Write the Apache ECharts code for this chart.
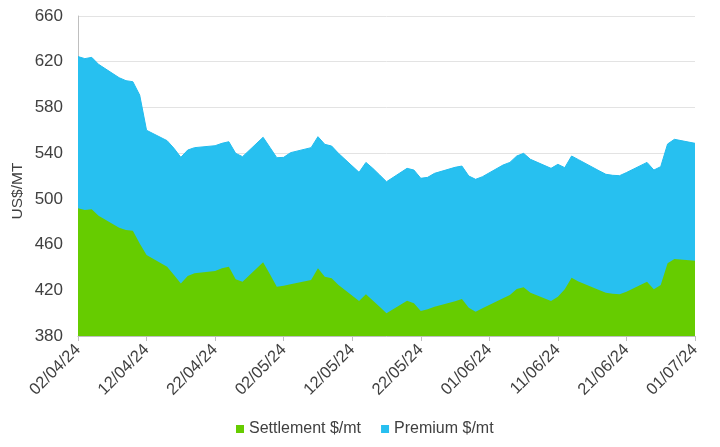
<!DOCTYPE html>
<html><head><meta charset="utf-8">
<script src="https://cdn.jsdelivr.net/npm/echarts@6/dist/echarts.min.js"></script>
<style>html,body{margin:0;padding:0;background:#fff}#c{width:720px;height:447px}</style>
</head><body><div id="c"></div>
<script>
// Weekday dates (DD/MM/YY)
const dates = ["02/04/24","03/04/24","04/04/24","05/04/24","08/04/24","09/04/24","10/04/24","11/04/24","12/04/24",
"15/04/24","16/04/24","17/04/24","18/04/24","19/04/24","22/04/24","23/04/24","24/04/24","25/04/24","26/04/24",
"29/04/24","30/04/24","01/05/24","02/05/24","03/05/24","06/05/24","07/05/24","08/05/24","09/05/24","10/05/24",
"13/05/24","14/05/24","15/05/24","16/05/24","17/05/24","20/05/24","21/05/24","22/05/24","23/05/24","24/05/24",
"27/05/24","28/05/24","29/05/24","30/05/24","31/05/24","03/06/24","04/06/24","05/06/24","06/06/24","07/06/24",
"10/06/24","11/06/24","12/06/24","13/06/24","14/06/24","17/06/24","18/06/24","19/06/24","20/06/24","21/06/24",
"24/06/24","25/06/24","26/06/24","27/06/24","28/06/24","01/07/24"];
const settlement = [491.7,490.2,490.8,485.3,474.8,472.7,472.1,461,450.9,
440.6,433.4,426,432.5,434.8,436.9,439.2,440.6,429.6,427.5,
444.5,434,423.2,424,425.2,429,439.2,431.9,430.5,424.6,
410.6,416.5,411,405.6,399.8,410.9,408.6,401.9,403.3,405.6,
410.5,412.4,404.8,401.3,404.2,413,415.9,421.1,422.6,417.9,
410.6,414.4,420.8,431,427.6,420.2,417.9,417,416.5,418.8,
427.5,420.8,424.6,443.6,447.4,445.9];
const premium = [132.8,132.5,133,132.4,131.2,130.7,130.4,129.8,109.1,
110.3,110.8,110.3,110.2,110,109.6,109.4,109.4,110.2,109.4,
109.4,111,112.8,112.3,115.2,115.8,115.2,115.8,115.7,115.2,
112.6,115.4,115.7,115.3,115.2,115.8,116.6,116.1,115.5,116.7,
117.1,116.3,115.2,115.8,115.2,116.6,116,116.4,117.2,116.7,
116.1,115.8,106.5,106.5,106.7,104.4,103.6,103.6,103.8,104.2,
104.4,104.4,103.6,104.4,104.7,102.7];
const yTicks = [380,420,460,500,540,580,620,660];

const DAY = 86400000;
function parse(s){const p=s.split('/');return Date.UTC(2000+ +p[2], +p[1]-1, +p[0]);}
const start = parse(dates[0]);
const xs = dates.map(d => Math.round((parse(d)-start)/DAY));
function fmt(off){const d=new Date(start+off*DAY);const pad=n=>String(n).padStart(2,'0');
  return pad(d.getUTCDate())+'/'+pad(d.getUTCMonth()+1)+'/'+String(d.getUTCFullYear()).slice(2);}
// premium sits on top of settlement (stacked)
const stackedTop = premium.map((p,i)=>+(p+settlement[i]).toFixed(2));

const chart = echarts.init(document.getElementById('c'), null, {renderer:'canvas'});
const font = 'Liberation Sans, Arial, sans-serif';
chart.setOption({
  animation:false,
  grid:{left:78,right:25,top:16,bottom:111},
  xAxis:{type:'value',min:0,max:xs[xs.length-1],interval:10,
    axisLine:{show:true,lineStyle:{color:'#bfbfbf',width:1}},
    axisTick:{show:true,length:5,lineStyle:{color:'#bfbfbf'}},
    splitLine:{show:false},
    axisLabel:{rotate:45,formatter:v=>fmt(v),color:'#404040',fontSize:16.5,fontFamily:font,margin:11}},
  yAxis:{type:'value',min:yTicks[0],max:yTicks[yTicks.length-1],interval:40,
    axisLine:{show:true,lineStyle:{color:'#bfbfbf'}},
    axisTick:{show:false},
    splitLine:{lineStyle:{color:'#e3e3e3',width:1}},
    axisLabel:{color:'#404040',fontSize:17,fontFamily:font,margin:15}},
  legend:{top:416,left:231,itemWidth:8,itemHeight:8,itemGap:20,icon:'rect',
    textStyle:{color:'#404040',fontSize:16,fontFamily:font},
    data:['Settlement $/mt','Premium $/mt']},
  graphic:[{type:'text',x:18,y:191,rotation:Math.PI/2,
    style:{text:'US$/MT',fill:'#404040',font:'15.5px '+font,textAlign:'center',textVerticalAlign:'middle'}}],
  series:[
    {name:'Premium $/mt',type:'line',showSymbol:false,symbol:'none',z:2,
     data:xs.map((x,i)=>[x,stackedTop[i]]),
     itemStyle:{color:'#27bff0'},lineStyle:{width:1,color:'#22bbee'},areaStyle:{color:'#27c0f0',opacity:1,origin:'start'}},
    {name:'Settlement $/mt',type:'line',showSymbol:false,symbol:'none',z:3,
     data:xs.map((x,i)=>[x,settlement[i]]),
     itemStyle:{color:'#66cc00'},lineStyle:{width:0,color:'#66cc00'},areaStyle:{color:'#66cc00',opacity:1,origin:'start'}}
  ]
});
</script></body></html>
